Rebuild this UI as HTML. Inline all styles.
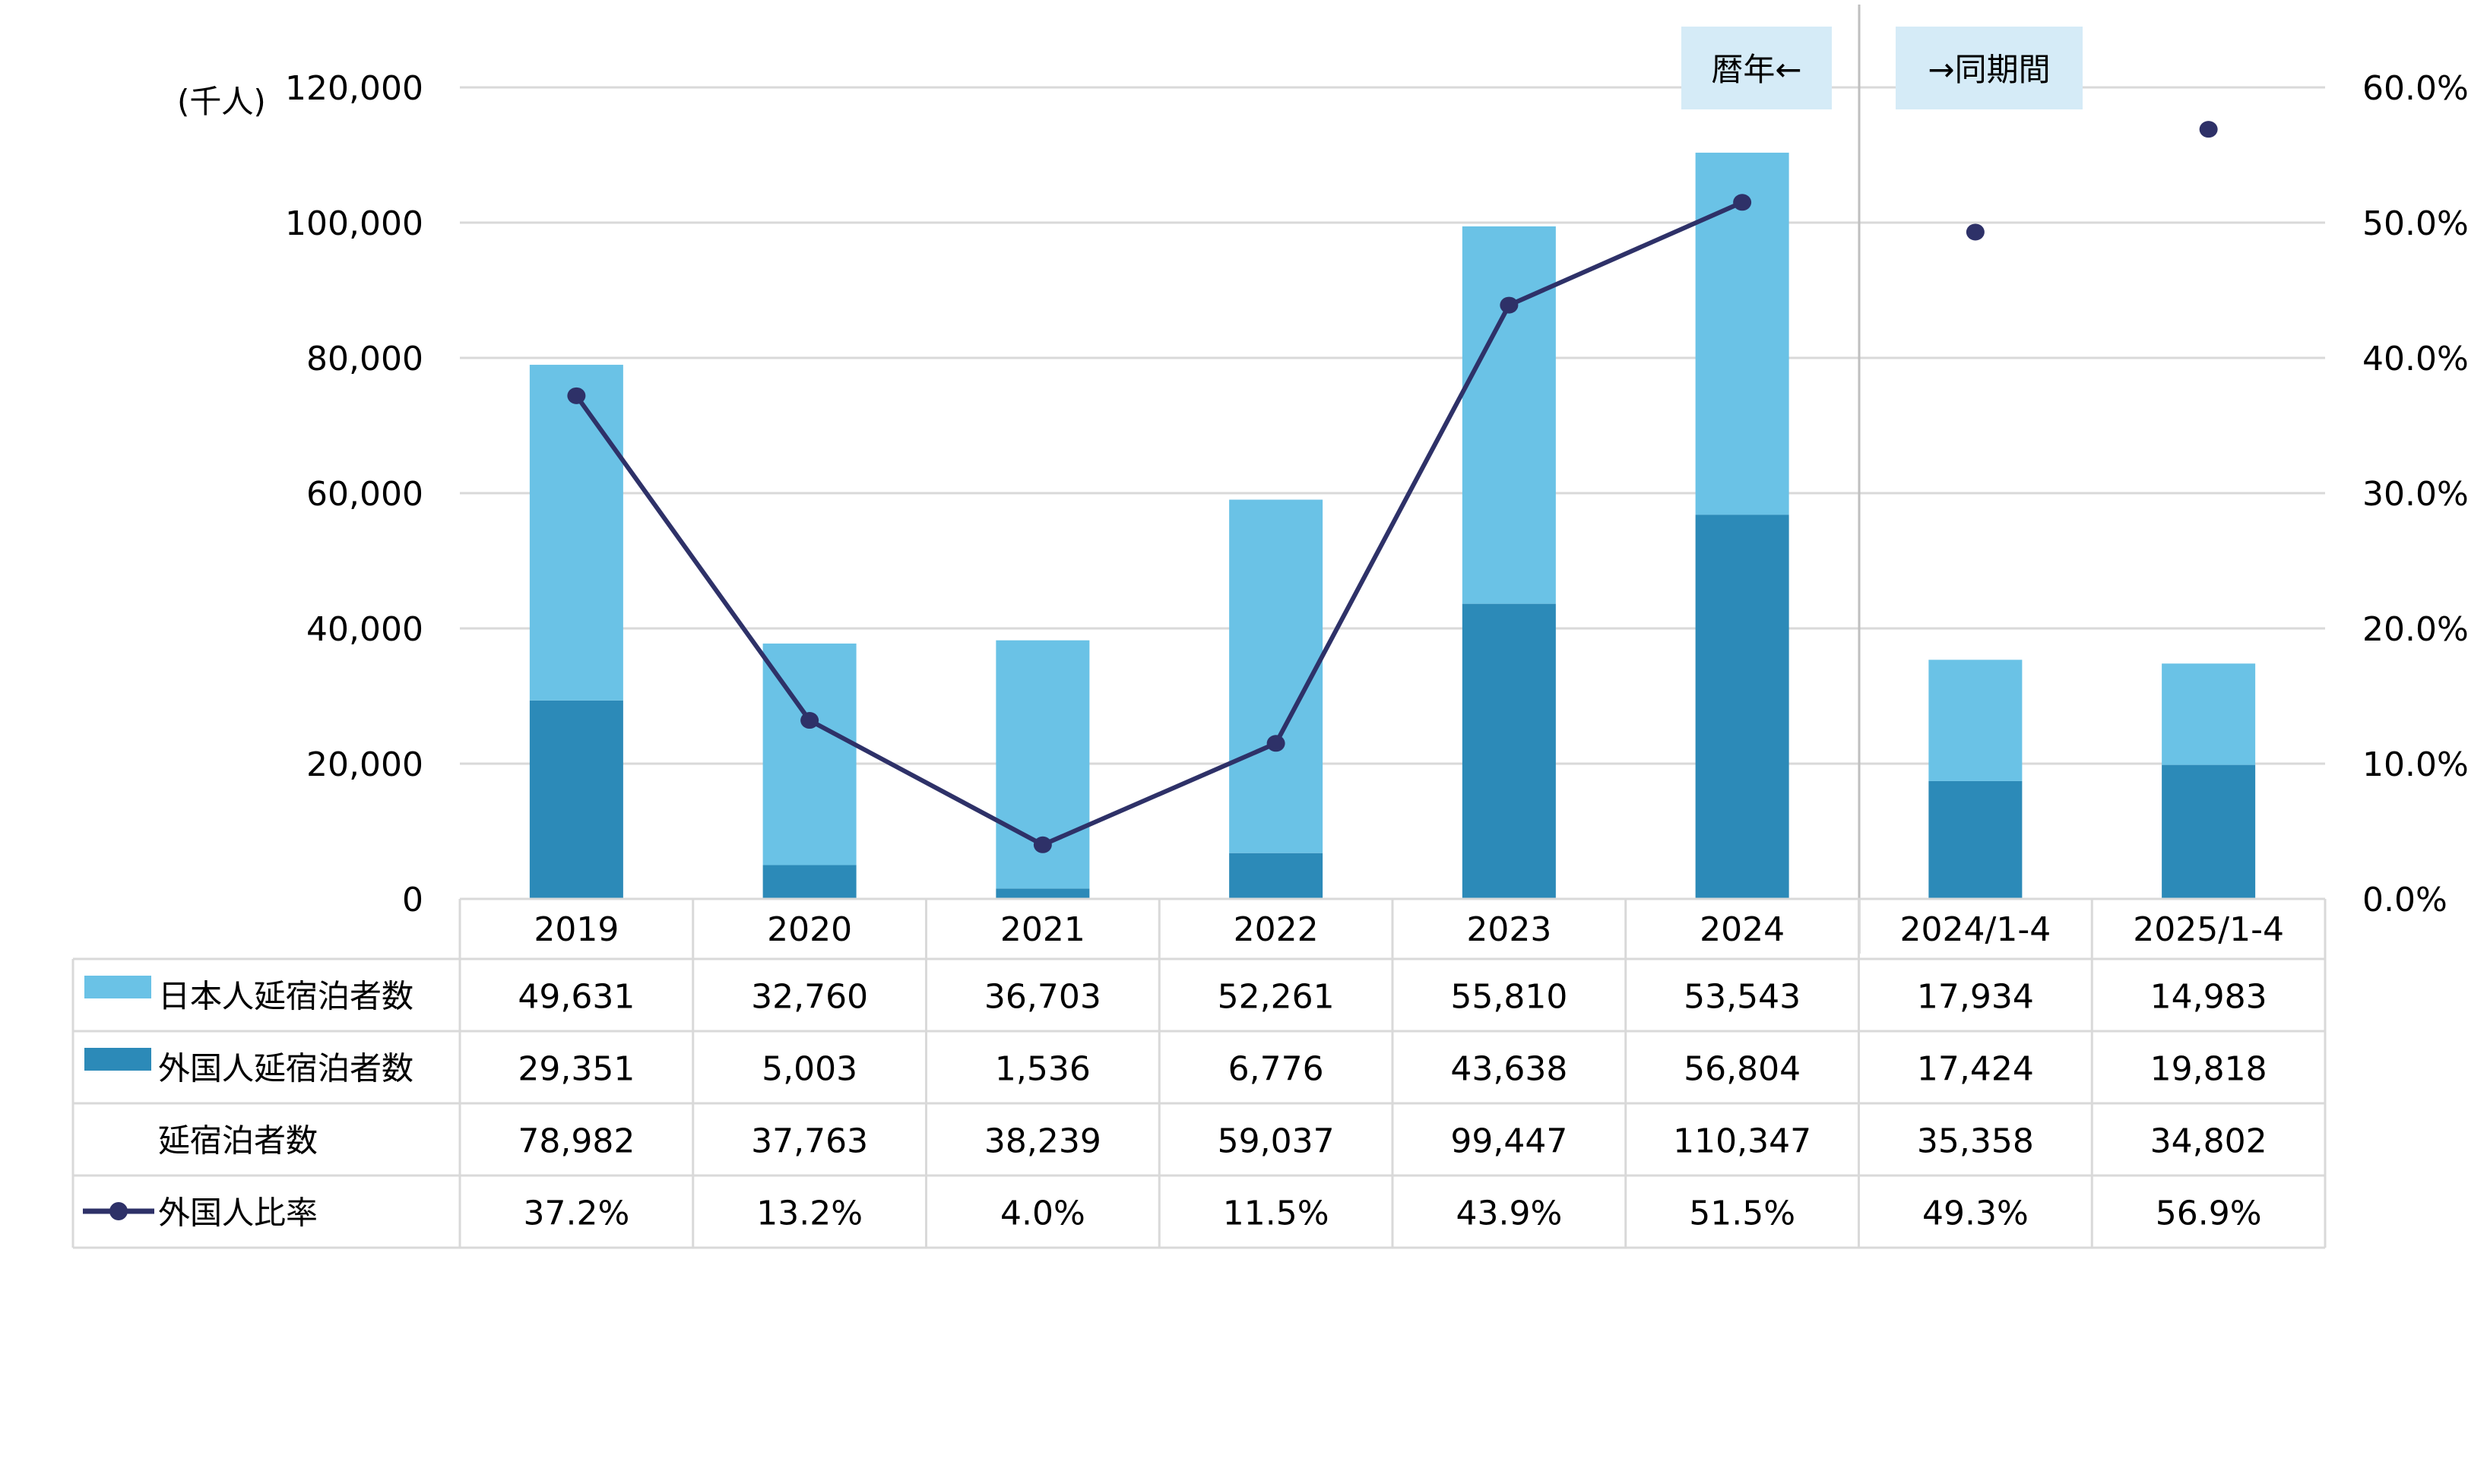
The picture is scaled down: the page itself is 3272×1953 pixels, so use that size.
<!DOCTYPE html>
<html><head><meta charset="utf-8"><style>
body{margin:0;background:#fff}
svg{display:block}
text{font-family:"DejaVu Sans","Liberation Sans","Noto Sans CJK JP",sans-serif;fill:#000}
</style></head><body>
<svg id="chart" width="3272" height="1953" xmlns="http://www.w3.org/2000/svg"></svg>
<script>
const categories=["2019","2020","2021","2022","2023","2024","2024/1-4","2025/1-4"];
const japanese=[49631,32760,36703,52261,55810,53543,17934,14983];
const foreign=[29351,5003,1536,6776,43638,56804,17424,19818];
const totals=[78982,37763,38239,59037,99447,110347,35358,34802];
const ratio=[37.2,13.2,4.0,11.5,43.9,51.5,49.3,56.9];
const leftTicks=[0,20000,40000,60000,80000,100000,120000];
const rightTicks=[0,10,20,30,40,50,60];
const lineConnected=6; // first 6 points connected

const NS="http://www.w3.org/2000/svg";
const svg=document.getElementById('chart');
const X0=605,X1=3059,Y0=1183,Y1=115;
const cw=(X1-X0)/categories.length;
const yL=v=>Y0-(v/120000)*(Y0-Y1);
const yR=v=>Y0-(v/60)*(Y0-Y1);
const xC=i=>X0+cw*(i+0.5);
function el(t,a,txt){const e=document.createElementNS(NS,t);for(const k in a)e.setAttribute(k,a[k]);if(txt!==undefined)e.textContent=txt;svg.appendChild(e);return e;}
const fmt=n=>n.toLocaleString('en-US');

leftTicks.forEach((v,i)=>{
 if(v>0){const g=el('line',{x1:X0,x2:X1,y1:yL(v),y2:yL(v),stroke:'#d9d9d9','stroke-width':3});
 
 }
 const t=el('text',{x:557,y:yL(v)+16,'text-anchor':'end','font-size':44},fmt(v));
 
 
});
rightTicks.forEach(v=>{
 const t=el('text',{x:3108,y:yR(v)+16,'font-size':44},v.toFixed(1)+'%');
 
 
});
const unit=el('text',{x:233,y:148,'font-size':42},'(千人)');



// separator
const sep=el('line',{x1:2446,x2:2446,y1:6,y2:1255,stroke:'#bfbfbf','stroke-width':3});



// bars
const bw=123;
categories.forEach((c,i)=>{
 const f=el('rect',{x:xC(i)-bw/2,y:yL(foreign[i]),width:bw,height:Y0-yL(foreign[i]),fill:'#2c8ab8'});
 
 
 const j=el('rect',{x:xC(i)-bw/2,y:yL(foreign[i]+japanese[i]),width:bw,height:yL(foreign[i])-yL(foreign[i]+japanese[i]),fill:'#6ac2e6'});
 
 
});
// line
let d='';
for(let i=0;i<lineConnected;i++)d+=(i?'L':'M')+xC(i)+','+yR(ratio[i]);
const ln=el('path',{d:d,fill:'none',stroke:'#2e3168','stroke-width':6});


ratio.forEach((r,i)=>{
 const p=el('ellipse',{cx:xC(i),cy:yR(r),rx:12,ry:11,fill:'#2e3168'});
 
 
});

// annotations
[[2212,198,'暦年←','calendar-year-label'],[2494,246,'→同期間','same-period-label']].forEach(a=>{
 const r=el('rect',{x:a[0],y:35,width:a[1],height:109,fill:'#d5ebf7'});
 
 
 const t=el('text',{x:a[0]+a[1]/2,y:106,'text-anchor':'middle','font-size':42},a[2]);
 
 
});

// table
const rows=[1183,1262,1357,1452,1547,1642];
const TL=96;
const gc='#d9d9d9';
function hl(x1,x2,y){const l=el('line',{x1:x1,x2:x2,y1:y,y2:y,stroke:gc,'stroke-width':3});}
function vl(x,y1,y2){const l=el('line',{x1:x,x2:x,y1:y1,y2:y2,stroke:gc,'stroke-width':3});}
hl(X0,X1,rows[0]);
for(let r=1;r<rows.length;r++)hl(TL,X1,rows[r]);
vl(TL,rows[1],rows[5]);
for(let i=0;i<=categories.length;i++)vl(X0+cw*i,rows[0],rows[5]);
categories.forEach((c,i)=>{
 const t=el('text',{x:xC(i),y:rows[0]+55,'text-anchor':'middle','font-size':44},c);
 
 
});
const rowData=[japanese.map(fmt),foreign.map(fmt),totals.map(fmt),ratio.map(r=>r.toFixed(1)+'%')];
const rowLabels=['日本人延宿泊者数','外国人延宿泊者数','延宿泊者数','外国人比率'];
rowData.forEach((vals,r)=>{
 const cy=(rows[r+1]+rows[r+2])/2;
 const lt=el('text',{x:208,y:cy+16,'font-size':42},rowLabels[r]);
 
 
 vals.forEach((v,i)=>{
  const t=el('text',{x:xC(i),y:cy+17,'text-anchor':'middle','font-size':44},v);
  
  
 });
});
const k1=el('rect',{x:111,y:1284,width:88,height:30,fill:'#6ac2e6'});


const k2=el('rect',{x:111,y:1379,width:88,height:30,fill:'#2c8ab8'});


const k3=el('line',{x1:109,x2:203,y1:1594,y2:1594,stroke:'#2e3168','stroke-width':7});


const k4=el('ellipse',{cx:156,cy:1594,rx:12,ry:12,fill:'#2e3168'});


</script>
</body></html>
